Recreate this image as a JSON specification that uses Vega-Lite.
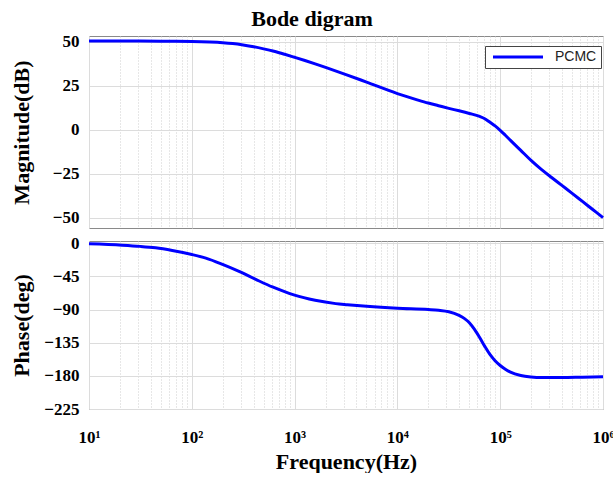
{
  "$schema": "https://vega.github.io/schema/vega-lite/v6.json",
  "padding": {"left": 9, "top": 8, "right": 0, "bottom": 0},
  "background": "white",
  "title": {"text": "Bode digram", "font": "Liberation Serif", "fontSize": 22, "fontWeight": "bold", "color": "#000", "anchor": "middle", "offset": 1},
  "datasets": {
    "mag": [
      {"f": 10, "mag": 50.5}, {"f": 31.6, "mag": 50.5}, {"f": 60, "mag": 50.4}, {"f": 100, "mag": 50.3},
      {"f": 150, "mag": 50.0}, {"f": 200, "mag": 49.6}, {"f": 250, "mag": 49.1}, {"f": 316, "mag": 48.3},
      {"f": 400, "mag": 47.3}, {"f": 500, "mag": 46.1}, {"f": 630, "mag": 44.7}, {"f": 800, "mag": 43.0},
      {"f": 1000, "mag": 41.3}, {"f": 1260, "mag": 39.5}, {"f": 1585, "mag": 37.6}, {"f": 2000, "mag": 35.6},
      {"f": 3162, "mag": 31.5}, {"f": 5012, "mag": 27.2}, {"f": 10000, "mag": 20.7}, {"f": 12589, "mag": 18.8},
      {"f": 15849, "mag": 17.0}, {"f": 19953, "mag": 15.3}, {"f": 25119, "mag": 13.8}, {"f": 31623, "mag": 12.3},
      {"f": 39811, "mag": 10.9}, {"f": 50119, "mag": 9.4}, {"f": 63096, "mag": 7.7}, {"f": 70795, "mag": 6.4},
      {"f": 79433, "mag": 4.4}, {"f": 89125, "mag": 2.3}, {"f": 100000, "mag": -0.2}, {"f": 112202, "mag": -3.0},
      {"f": 125893, "mag": -5.9}, {"f": 158489, "mag": -11.6}, {"f": 199526, "mag": -17.3}, {"f": 251189, "mag": -22.4},
      {"f": 316228, "mag": -27.0}, {"f": 398107, "mag": -31.5}, {"f": 501187, "mag": -36.0}, {"f": 630957, "mag": -40.6},
      {"f": 794328, "mag": -45.2}, {"f": 1000000, "mag": -49.8}
    ],
    "phase": [
      {"f": 10, "phase": -0.9}, {"f": 21, "phase": -2.7}, {"f": 31.6, "phase": -4.3}, {"f": 44.5, "phase": -6.3},
      {"f": 64.6, "phase": -9.9}, {"f": 100, "phase": -15.3}, {"f": 137, "phase": -20.3}, {"f": 199, "phase": -28.8},
      {"f": 288, "phase": -38.3}, {"f": 419, "phase": -49.1}, {"f": 609, "phase": -59.4}, {"f": 885, "phase": -68},
      {"f": 1000, "phase": -70.5}, {"f": 1585, "phase": -77.5}, {"f": 2512, "phase": -82}, {"f": 3260, "phase": -83.5},
      {"f": 5012, "phase": -85.7}, {"f": 10000, "phase": -88.3}, {"f": 20000, "phase": -90}, {"f": 25119, "phase": -91},
      {"f": 31623, "phase": -93}, {"f": 39811, "phase": -98}, {"f": 44668, "phase": -102}, {"f": 50119, "phase": -108},
      {"f": 56234, "phase": -117}, {"f": 63096, "phase": -128}, {"f": 70795, "phase": -140}, {"f": 79433, "phase": -151},
      {"f": 89125, "phase": -159.5}, {"f": 100000, "phase": -166}, {"f": 112202, "phase": -171}, {"f": 125893, "phase": -175},
      {"f": 158489, "phase": -179.5}, {"f": 199526, "phase": -181.5}, {"f": 251189, "phase": -182.3}, {"f": 398107, "phase": -182.3},
      {"f": 630957, "phase": -181.8}, {"f": 1000000, "phase": -181.3}
    ]
  },
  "config": {
    "view": {"stroke": "#8a8a8a", "strokeWidth": 1},
    "axis": {
      "labelFont": "Liberation Serif", "labelFontWeight": "bold", "labelFontSize": 17, "labelColor": "#000",
      "titleFont": "Liberation Serif", "titleFontWeight": "bold", "titleColor": "#000",
      "ticks": false, "domain": false, "gridColor": "#dcdcdc", "gridWidth": 1
    },
    "axisY": {"labelPadding": 10, "minExtent": 45, "maxExtent": 45, "titleFontSize": 22, "titlePadding": 11}
  },
  "spacing": 4,
  "resolve": {"legend": {"color": "independent"}},
  "vconcat": [
    {
      "width": 514, "height": 192,
      "data": {"name": "mag"},
      "mark": {"type": "line", "strokeWidth": 3, "interpolate": "monotone"},
      "encoding": {
        "x": {"field": "f", "type": "quantitative",
          "scale": {"type": "log", "domain": [10, 1000000], "nice": false},
          "axis": {"values": [10,20,30,40,50,60,70,80,90,100,200,300,400,500,600,700,800,900,1000,2000,3000,4000,5000,6000,7000,8000,9000,10000,20000,30000,40000,50000,60000,70000,80000,90000,100000,200000,300000,400000,500000,600000,700000,800000,900000,1000000],
            "labels": false, "title": null, "minExtent": 0, "maxExtent": 0,
            "gridDash": {"condition": {"test": "indexof([10,100,1000,10000,100000,1000000], datum.value) < 0", "value": [1, 2]}, "value": []},
            "gridColor": {"condition": {"test": "indexof([10,100,1000,10000,100000,1000000], datum.value) < 0", "value": "#cfcfcf"}, "value": "#dcdcdc"}}},
        "y": {"field": "mag", "type": "quantitative",
          "scale": {"domain": [-55.7, 53.4], "nice": false, "zero": false},
          "axis": {"values": [-50, -25, 0, 25, 50], "title": "Magnitude(dB)"}},
        "color": {"datum": "PCMC", "type": "nominal", "scale": {"range": ["#0000ff"]},
          "legend": {"title": null, "orient": "none", "legendX": 396, "legendY": 10,
            "symbolType": "M-5,0H5", "symbolSize": 100, "symbolStrokeWidth": 3, "symbolOffset": 22,
            "labelOffset": 30,
            "labelFont": "Liberation Sans", "labelFontSize": 14, "labelColor": "#222",
            "strokeColor": "#444", "fillColor": "white", "padding": 4}}
      }
    },
    {
      "width": 514, "height": 168,
      "data": {"name": "phase"},
      "mark": {"type": "line", "strokeWidth": 3, "color": "#0000ff", "interpolate": "monotone"},
      "encoding": {
        "x": {"field": "f", "type": "quantitative",
          "scale": {"type": "log", "domain": [10, 1000000], "nice": false},
          "axis": {"values": [10,20,30,40,50,60,70,80,90,100,200,300,400,500,600,700,800,900,1000,2000,3000,4000,5000,6000,7000,8000,9000,10000,20000,30000,40000,50000,60000,70000,80000,90000,100000,200000,300000,400000,500000,600000,700000,800000,900000,1000000],
            "title": "Frequency(Hz)", "titleFontSize": 22, "titlePadding": 6,
            "labelExpr": "indexof([10,100,1000,10000,100000,1000000], datum.value) >= 0 ? '10' + ['¹','²','³','⁴','⁵','⁶'][indexof([10,100,1000,10000,100000,1000000], datum.value)] : ''",
            "labelOverlap": false, "labelBound": false, "labelFlush": false, "labelPadding": 20, "labelAngle": 0,
            "gridDash": {"condition": {"test": "indexof([10,100,1000,10000,100000,1000000], datum.value) < 0", "value": [1, 2]}, "value": []},
            "gridColor": {"condition": {"test": "indexof([10,100,1000,10000,100000,1000000], datum.value) < 0", "value": "#cfcfcf"}, "value": "#dcdcdc"}}},
        "y": {"field": "phase", "type": "quantitative",
          "scale": {"domain": [-225, 3], "nice": false, "zero": false},
          "axis": {"values": [-225, -180, -135, -90, -45, 0], "title": "Phase(deg)"}}
      }
    }
  ]
}
